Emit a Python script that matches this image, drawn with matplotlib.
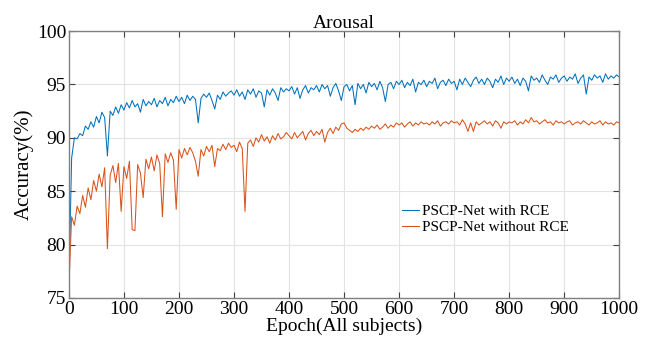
import numpy as np
import matplotlib
matplotlib.use("Agg")
import matplotlib.pyplot as plt

epochs = np.arange(0, 1001, 5)

acc_with_rce = [
    76.2, 88.1, 90.0, 89.9, 90.4, 90.2, 91.1, 90.8, 91.5, 91.0,
    92.0, 91.4, 92.4, 91.9, 88.3, 92.5, 92.1, 92.9, 92.3, 93.1,
    92.6, 93.3, 92.8, 93.5, 92.9, 93.2, 92.4, 93.6, 93.0, 93.4,
    93.1, 93.7, 92.9, 93.5, 93.2, 93.8, 93.0, 93.6, 93.3, 93.9,
    93.4, 93.8, 93.2, 94.0, 93.5, 93.9, 93.6, 91.4, 93.7, 94.1,
    93.8, 94.2, 93.5, 92.7, 94.0, 93.6, 94.3, 93.9, 94.2, 94.4,
    94.0, 94.5, 93.9, 94.3, 93.6, 94.5, 94.1, 94.6, 93.8, 94.4,
    94.2, 92.9, 94.5, 94.0, 94.6, 94.2, 93.5, 94.7, 94.3, 94.6,
    94.4, 94.8, 94.1, 94.7, 93.7, 94.5, 94.9, 94.2, 94.7, 94.5,
    94.9, 94.3, 95.0, 94.6, 94.9, 93.9, 94.7, 95.1, 94.4, 93.5,
    94.8, 95.0, 94.4, 94.9, 93.1, 95.1, 94.6, 95.0, 94.2, 95.2,
    94.8, 95.1, 94.5, 95.3, 94.7, 93.4, 95.0, 95.2, 94.6, 95.3,
    95.0, 95.4, 94.7, 95.2, 94.9, 95.5, 94.3, 95.2, 95.0, 95.4,
    94.8, 95.3, 95.1, 95.6, 94.6, 95.2, 95.4, 94.9, 95.5, 95.1,
    95.3, 94.5, 95.5, 95.0, 95.6, 95.2, 94.8, 95.4, 95.7, 95.1,
    95.5, 95.0, 95.6, 95.3, 94.7, 95.5, 95.2, 95.8, 95.0, 95.6,
    95.3, 95.7, 95.1, 95.5, 94.9, 95.6, 95.3, 94.4, 95.8, 95.4,
    95.6, 95.2, 95.9, 95.4, 95.0, 95.7, 95.5, 95.9, 95.2, 95.6,
    95.8, 95.3, 95.7, 95.5, 96.0, 95.1, 95.6, 95.9, 94.1, 95.7,
    95.4, 95.9, 95.6, 95.8, 95.2, 96.0, 95.5, 95.8, 95.6, 95.9,
    95.7,
]

acc_without_rce = [
    76.0, 82.6, 81.8, 83.6, 82.9, 84.6, 83.5, 85.3, 84.2, 86.0,
    85.0, 86.6, 85.4, 87.2, 79.6, 86.5, 87.4, 85.8, 87.6, 83.1,
    87.3, 86.2, 87.8, 81.4, 81.3, 87.5, 86.7, 84.4, 88.0, 87.1,
    88.2, 86.9, 88.4, 87.6, 82.6, 88.5, 87.7, 88.6, 87.9, 83.3,
    88.9, 88.1, 89.0, 88.4, 89.1, 88.6, 87.8, 86.4, 88.9, 88.3,
    89.2, 88.7, 89.3, 87.3, 89.0, 88.8, 89.4, 88.9, 89.5, 89.1,
    89.3, 88.7, 89.6, 89.0, 83.1, 89.5, 89.8, 89.2, 90.0, 89.6,
    90.3, 89.7, 90.1, 89.5, 90.2, 89.8, 90.4, 89.9, 90.1, 90.5,
    90.2, 89.9, 90.5, 90.0, 90.3, 90.6, 89.8, 90.4, 90.7, 90.2,
    90.6, 90.3, 90.8, 89.6, 90.5, 90.9, 90.4, 91.0, 90.7, 91.3,
    91.4, 90.9, 90.7, 90.5, 90.8, 90.6, 90.9, 90.7, 91.0, 90.8,
    91.1, 90.9, 91.2, 90.8, 91.0, 91.3, 90.9, 91.2, 91.0, 91.4,
    91.2, 91.4, 91.0, 91.3, 91.5, 91.1, 91.4, 91.2, 91.5, 91.3,
    91.4, 91.2, 91.5, 91.3, 91.6, 91.1, 91.4, 91.5, 91.3, 91.6,
    91.4, 91.5, 91.2, 91.7, 91.3, 90.6, 91.4, 90.6, 91.5, 91.2,
    91.4, 91.6, 91.3, 91.5, 91.1, 91.6, 91.4, 90.9, 91.5, 91.3,
    91.5, 91.4, 91.6, 91.2, 91.5, 91.3, 91.7, 91.4, 91.9, 91.5,
    91.6, 91.3, 91.5, 91.7, 91.4, 91.5, 91.2, 91.6, 91.4, 91.5,
    91.3, 91.5, 91.6, 91.2, 91.4, 91.5, 91.3, 91.6, 91.4, 91.2,
    91.5, 91.3, 91.4, 91.6, 91.2, 91.5, 91.3, 91.4, 91.2, 91.5,
    91.4,
]

x_ticks = [0, 100, 200, 300, 400, 500, 600, 700, 800, 900, 1000]
y_ticks = [75, 80, 85, 90, 95, 100]
series_labels = ["PSCP-Net with RCE", "PSCP-Net without RCE"]

plt.rcParams['font.family'] = ['Liberation Serif', 'DejaVu Serif']

fig = plt.figure(figsize=(6.56, 3.5), dpi=100)
ax = fig.add_axes([0.105, 0.149, 0.839, 0.762])

ax.plot(epochs, acc_with_rce, color='#0072BD', lw=0.75, label=series_labels[0])
ax.plot(epochs, acc_without_rce, color='#D95319', lw=0.75, label=series_labels[1])

ax.set_xlim(0, 1000)
ax.set_ylim(75, 100)
ax.set_xticks(x_ticks)
ax.set_yticks(y_ticks)
ax.grid(True, color='#e3e3e3', lw=0.8)
ax.set_axisbelow(True)
for s in ax.spines.values():
    s.set_color('#808080')
    s.set_linewidth(1.0)
ax.tick_params(direction='in', top=True, right=True, length=4, color='#404040',
               labelsize=14, pad=2)
ax.set_xlabel('Epoch(All subjects)', fontsize=14, labelpad=0)
ax.set_ylabel('Accuracy(%)', fontsize=15, labelpad=2)
ax.set_title('Arousal', fontsize=14, pad=2)

ax.legend(loc='lower left', bbox_to_anchor=(0.595, 0.215), frameon=False,
          fontsize=11, handlelength=1.1, handletextpad=0.2, labelspacing=0.15,
          borderaxespad=0)

fig.savefig('out.png', dpi=100)
